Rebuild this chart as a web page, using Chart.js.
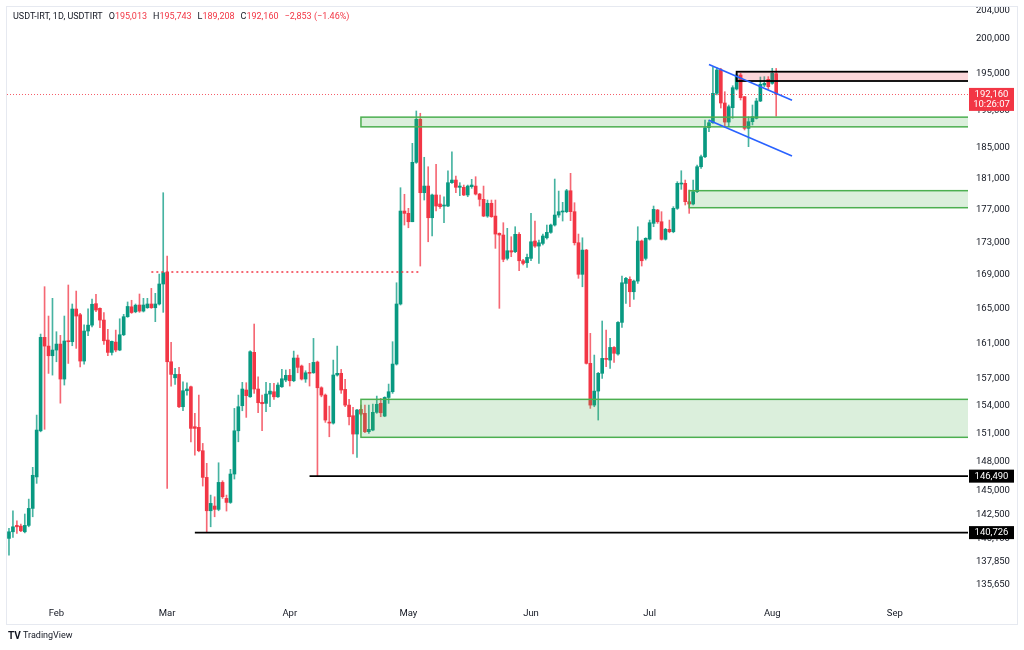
<!DOCTYPE html>
<html>
<head>
<meta charset="utf-8">
<title>USDT-IRT, 1D</title>
<script src="https://cdn.jsdelivr.net/npm/chart.js@4.4.1/dist/chart.umd.min.js"></script>
<style>
  html, body { margin: 0; padding: 0; background: #ffffff; }
  #wrap { width: 1024px; height: 650px; position: relative; }
</style>
</head>
<body>
<div id="wrap"><canvas id="canvas" width="1024" height="650"></canvas></div>
<script>
// daily candles, first one is 2025-01-20, axis runs on into September
var startDate = '2025-01-20';
var dayCount = 243;

var opens = [
  140150, 140810, 141450, 141380, 140810, 141450, 143170, 146410, 151290, 161680,
  160680, 159580, 160230, 160910, 156960, 161260, 161180, 164970, 164300, 158980,
  162410, 163090, 165600, 165050, 163680, 161370, 159960, 161140, 160230, 161980,
  164070, 165230, 164650, 165440, 164730, 165120, 165560, 165120, 165560, 167930,
  169360, 158900, 157100, 157480, 153900, 155660, 156100, 151730, 151660, 149160,
  146360, 142930, 143410, 143070, 145840, 144190, 143780, 146710, 151290, 154010,
  155740, 154990, 159970, 155850, 154380, 154270, 155290, 155550, 154990, 156100,
  156850, 157370, 156770, 159320, 158420, 156960, 157710, 157660, 158870, 155990,
  155180, 152230, 152120, 157410, 157600, 155810, 154080, 152920, 150940, 153610,
  153180, 151190, 151370, 153290, 154270, 152880, 154920, 155550, 158640, 165560,
  176870, 176580, 175530, 183100, 188790, 179190, 180040, 176030, 178900, 177760,
  177500, 177500, 180470, 180810, 179880, 179880, 178900, 179960, 180040, 179020,
  178350, 176240, 177840, 176240, 174090, 173880, 171020, 171950, 171830, 173970,
  170730, 170490, 171020, 173140, 172520, 172850, 173540, 174210, 175120, 176370,
  176750, 176790, 179440, 176790, 172930, 169090, 172030, 158720, 154080, 155620,
  157600, 159280, 159090, 160530, 159780, 163410, 168000, 168490, 167010, 168280,
  173140, 171020, 173380, 175330, 177000, 175530, 173350, 174590, 174290, 177210,
  180300, 180390, 178050, 177760, 179320, 182530, 183830, 187660, 188330, 192310,
  195520, 190990, 188420, 190350, 192900, 194830, 191850, 187580, 188470, 188920,
  191260, 193450, 194230, 193680, 195013
];
var highs = [
  141150, 142930, 141920, 141590, 142600, 144120, 147410, 152990, 162060, 167610,
  164150, 166230, 162330, 161910, 164150, 167810, 165560, 167090, 164460, 163130,
  165000, 166140, 166700, 165120, 164560, 162610, 161260, 162520, 163830, 164350,
  165800, 166000, 165560, 166740, 166230, 166230, 167410, 166820, 169120, 179190,
  171300, 161110, 158160, 158270, 156660, 156550, 156180, 153180, 155180, 149940,
  147830, 144530, 144360, 147890, 146010, 144530, 147200, 153720, 155180, 156590,
  156550, 160150, 163220, 157220, 155180, 156590, 156480, 156480, 156550, 158040,
  157970, 158040, 160110, 159660, 158530, 157890, 158720, 161560, 158980, 156100,
  155300, 153970, 159090, 160680, 158040, 156920, 154710, 153830, 153610, 154080,
  154080, 154080, 154190, 155070, 154820, 154990, 156400, 161180, 168080, 179830,
  178990, 177210, 185590, 189910, 189600, 183760, 182530, 179000, 182840, 178900,
  178680, 182010, 184490, 181330, 180470, 180170, 180170, 180900, 181240, 179110,
  180040, 178260, 178260, 178260, 174150, 175410, 174710, 173670, 174910, 174170,
  170900, 171550, 176580, 175620, 173260, 174000, 175120, 175240, 180940, 179400,
  177970, 179620, 181680, 177920, 174000, 173540, 172120, 162140, 159660, 157700,
  163570, 162520, 161560, 160610, 163490, 168880, 168730, 168800, 168400, 174910,
  173260, 173540, 175740, 177500, 177080, 176790, 174710, 175740, 177420, 180600,
  182010, 180810, 179530, 180810, 182750, 184060, 188690, 188690, 195940, 195840,
  195760, 192530, 190720, 193350, 195070, 195070, 191900, 189140, 190720, 191630,
  194550, 194600, 194600, 195760, 195743
];
var lows = [
  138500, 140250, 140650, 140810, 140700, 141310, 142320, 145740, 151180, 151450,
  157590, 157400, 158900, 154290, 156290, 158710, 160720, 160420, 158330, 158640,
  161870, 162890, 164650, 162800, 160880, 159580, 159660, 160030, 160150, 161870,
  164000, 164460, 164530, 164580, 164620, 165050, 165050, 163490, 165440, 164580,
  145220, 156180, 156370, 153790, 153460, 155180, 150110, 148700, 149050, 145460,
  140726, 141310, 142320, 142930, 144190, 142900, 143680, 146190, 150110, 153460,
  152740, 154930, 155370, 153240, 151290, 153350, 153900, 154710, 154920, 156030,
  156660, 156180, 156660, 157660, 156850, 156590, 156180, 157600, 146490, 154990,
  152200, 150650, 152010, 157290, 155370, 153900, 151910, 148810, 148460, 152990,
  151080, 151010, 151290, 153180, 152810, 152810, 154270, 155370, 158530, 165440,
  175120, 174780, 175530, 182970, 170090, 178260, 173050, 173760, 176870, 177210,
  175410, 177420, 180390, 179190, 178810, 178810, 178680, 179750, 178900, 177500,
  176160, 176080, 176080, 172240, 165050, 170610, 170820, 171220, 171710, 169520,
  170210, 169930, 170730, 172360, 170410, 172650, 173380, 174090, 174990, 176080,
  175620, 176660, 175660, 172650, 168610, 167600, 158640, 153720, 153900, 152450,
  157030, 158340, 158160, 158830, 159660, 162830, 165640, 165240, 166110, 168000,
  170090, 170820, 173260, 174910, 175330, 173260, 173260, 174160, 174160, 177080,
  179620, 177630, 176580, 177630, 179190, 182320, 183700, 187130, 188250, 192080,
  190310, 187760, 187800, 188920, 192760, 191400, 187360, 185150, 188030, 188830,
  191170, 193220, 192860, 193550, 189208
];
var closes = [
  140810, 141310, 141310, 140910, 141450, 143170, 146580, 151370, 161680, 160680,
  159580, 160230, 160910, 156960, 161260, 161180, 164970, 164150, 158980, 162410,
  163090, 165530, 164850, 163680, 161290, 159960, 161220, 160230, 161980, 164070,
  165270, 164560, 165420, 164730, 165440, 165560, 165120, 165560, 167930, 169280,
  158900, 157480, 157480, 153900, 155660, 155850, 151550, 151550, 149160, 146360,
  142930, 143680, 143070, 145840, 144360, 143780, 146710, 151290, 153900, 155850,
  155110, 160040, 155850, 154340, 154230, 155290, 155620, 154990, 156290, 156990,
  157370, 156770, 159320, 158270, 156960, 157660, 157600, 158830, 155990, 155180,
  152450, 152120, 157410, 157600, 155740, 154080, 152810, 150940, 153540, 153100,
  151190, 151440, 153290, 154170, 153240, 154920, 155550, 158640, 165560, 176870,
  176580, 175530, 183100, 188790, 179190, 180040, 176030, 178900, 177500, 177420,
  177630, 180470, 180810, 179880, 180040, 178900, 180040, 180170, 179020, 178350,
  176240, 177840, 176160, 174000, 173880, 170900, 171950, 171790, 173970, 170730,
  170410, 171140, 173050, 172520, 172930, 173760, 174210, 175120, 176370, 176790,
  176870, 179440, 176790, 172930, 169090, 172030, 158720, 154080, 155620, 157600,
  159280, 159170, 160530, 159860, 163410, 168080, 168610, 167010, 168280, 173140,
  170730, 173470, 175410, 177080, 175530, 173350, 174590, 174290, 177210, 180390,
  180390, 178050, 177760, 179320, 182530, 183830, 187660, 188330, 192310, 195520,
  190990, 188420, 190490, 193080, 194830, 191710, 187580, 188470, 189140, 191260,
  193540, 193680, 193220, 195060, 192160
];

// right price scale labels
var yTicks = [204000, 200000, 195000, 190000, 185000, 181000, 177000, 173000, 169000,
  165000, 161000, 157000, 154000, 151000, 148000, 145000, 142500, 140100, 137850, 135650];
var monthNames = ['Jan', 'Feb', 'Mar', 'Apr', 'May', 'Jun', 'Jul', 'Aug', 'Sep', 'Oct', 'Nov', 'Dec'];

// drawings on the chart
var demandZones = [
  { from: '2025-04-19', top: 189080, bottom: 187780 },
  { from: '2025-07-11', top: 179450, bottom: 177290 },
  { from: '2025-04-19', top: 154710, bottom: 150590 }
];
var supplyZone = { from: '2025-07-23', top: 195285, bottom: 194000 };
var lowLevels = [
  { from: '2025-04-06', price: 146490 },
  { from: '2025-03-08', price: 140726 }
];
var dottedLevel = { from: '2025-02-25', to: '2025-05-04', price: 169360 };
var channel = [
  { from: '2025-07-16', p1: 196275, to: '2025-08-06', p2: 191370 },
  { from: '2025-07-16', p1: 188660, to: '2025-08-06', p2: 183940 }
];
var lastPrice = 192160;
var lastTime = '10:26:07';
var headerTitle = 'USDT-IRT, 1D, USDTIRT';
var ohlcLast = [['O', '195,013'], ['H', '195,743'], ['L', '189,208'], ['C', '192,160']];
var changeText = '\u22122,853 (\u22121.46%)';

var UP = '#089981', DOWN = '#F23645';
var FONT = 'Roboto, "Noto Sans", sans-serif';

var labels = [];
var d0 = new Date(startDate + 'T00:00:00Z');
for (var i = 0; i < dayCount; i++) {
  labels.push(new Date(d0.getTime() + i * 86400000).toISOString().slice(0, 10));
}

var wickData = highs.map(function(h, i) { return [lows[i], h]; });
var bodyData = opens.map(function(o, i) { return [o, closes[i]]; });
var candleColors = closes.map(function(c, i) { return c >= opens[i] ? UP : DOWN; });
var wickColors = closes.map(function(c, i) { return c >= opens[i] ? 'rgba(8,153,129,0.75)' : 'rgba(242,54,69,0.75)'; });

function fmt(v) { return Math.round(v).toLocaleString('en-US'); }

var overlay = {
  id: 'overlay',
  afterDatasetsDraw: function(chart) {
    var ctx = chart.ctx, xs = chart.scales.x, ys = chart.scales.y, a = chart.chartArea;
    function px(date) { return xs.getPixelForValue(labels.indexOf(date)); }
    ctx.save();
    ctx.beginPath();
    ctx.rect(a.left, a.top, a.right - a.left, a.bottom - a.top);
    ctx.clip();

    // green zones
    demandZones.forEach(function(z) {
      var x = px(z.from), y1 = ys.getPixelForValue(z.top), y2 = ys.getPixelForValue(z.bottom);
      ctx.fillStyle = 'rgba(76,175,80,0.2)';
      ctx.fillRect(x, y1, a.right - x, y2 - y1);
      ctx.strokeStyle = '#4CAF50';
      ctx.lineWidth = 1.5;
      ctx.strokeRect(x, y1, a.right - x + 4, y2 - y1);
    });

    // supply zone
    var sx = px(supplyZone.from);
    var sy1 = ys.getPixelForValue(supplyZone.top), sy2 = ys.getPixelForValue(supplyZone.bottom);
    ctx.fillStyle = 'rgba(242,54,69,0.2)';
    ctx.fillRect(sx, sy1, a.right - sx, sy2 - sy1);
    ctx.strokeStyle = '#000000';
    ctx.lineWidth = 1.8;
    ctx.strokeRect(sx, sy1, a.right - sx + 4, sy2 - sy1);

    // black lows
    lowLevels.forEach(function(l) {
      var y = ys.getPixelForValue(l.price);
      ctx.strokeStyle = '#000000';
      ctx.lineWidth = 1.8;
      ctx.beginPath();
      ctx.moveTo(px(l.from), y);
      ctx.lineTo(a.right, y);
      ctx.stroke();
    });

    // red dotted level
    var dy = ys.getPixelForValue(dottedLevel.price);
    ctx.strokeStyle = DOWN;
    ctx.lineWidth = 1.5;
    ctx.setLineDash([2, 3]);
    ctx.beginPath();
    ctx.moveTo(px(dottedLevel.from), dy);
    ctx.lineTo(px(dottedLevel.to), dy);
    ctx.stroke();

    // last price line
    var ly = Math.round(ys.getPixelForValue(lastPrice)) + 0.5;
    ctx.lineWidth = 1;
    ctx.setLineDash([1, 2]);
    ctx.strokeStyle = 'rgba(242,54,69,0.8)';
    ctx.beginPath();
    ctx.moveTo(a.left, ly);
    ctx.lineTo(a.right, ly);
    ctx.stroke();
    ctx.setLineDash([]);

    // falling channel
    ctx.strokeStyle = '#2962FF';
    ctx.lineWidth = 1.6;
    channel.forEach(function(t) {
      ctx.beginPath();
      ctx.moveTo(px(t.from), ys.getPixelForValue(t.p1));
      ctx.lineTo(px(t.to), ys.getPixelForValue(t.p2));
      ctx.stroke();
    });
    ctx.restore();
  },
  afterDraw: function(chart) {
    var ctx = chart.ctx, ys = chart.scales.y, a = chart.chartArea;
    ctx.save();

    // panel frame
    ctx.strokeStyle = '#e6e9f0';
    ctx.lineWidth = 1;
    ctx.strokeRect(6.5, 6.5, 1011, 618);

    // price tags on the scale
    ctx.textAlign = 'center';
    ctx.textBaseline = 'middle';
    ctx.font = '9.5px ' + FONT;
    var tx = a.right + 1, tw = 45;
    var py = ys.getPixelForValue(lastPrice);
    ctx.fillStyle = DOWN;
    ctx.fillRect(tx, py - 6.5, tw, 23);
    ctx.fillStyle = '#ffffff';
    ctx.fillText(fmt(lastPrice), tx + tw / 2, py);
    ctx.fillText(lastTime, tx + tw / 2, py + 10);
    lowLevels.forEach(function(l) {
      var y = ys.getPixelForValue(l.price);
      ctx.fillStyle = '#000000';
      ctx.fillRect(tx, y - 6.5, tw, 13);
      ctx.fillStyle = '#ffffff';
      ctx.fillText(fmt(l.price), tx + tw / 2, y + 0.5);
    });

    // legend line
    ctx.textAlign = 'left';
    ctx.font = '9px ' + FONT;
    var x = 13, y = 17;
    ctx.fillStyle = '#131722';
    ctx.fillText(headerTitle, x, y);
    x += ctx.measureText(headerTitle).width + 6;
    ohlcLast.forEach(function(p) {
      ctx.fillStyle = '#131722';
      ctx.fillText(p[0], x, y);
      x += ctx.measureText(p[0]).width;
      ctx.fillStyle = DOWN;
      ctx.fillText(p[1], x, y);
      x += ctx.measureText(p[1]).width + 6;
    });
    ctx.fillStyle = DOWN;
    ctx.fillText(changeText, x, y);

    // logo
    ctx.fillStyle = '#131722';
    ctx.font = 'bold 10px ' + FONT;
    ctx.fillText('TV', 8, 636);
    ctx.font = '9px ' + FONT;
    ctx.fillText('TradingView', 23, 636);
    ctx.restore();
  }
};

var ctx = document.getElementById('canvas').getContext('2d');
var chart = new Chart(ctx, {
  type: 'bar',
  data: {
    labels: labels,
    datasets: [{
      label: 'wick',
      data: wickData,
      backgroundColor: wickColors,
      barThickness: 1,
      grouped: false,
      order: 2
    }, {
      label: 'body',
      data: bodyData,
      backgroundColor: candleColors,
      barThickness: 3,
      minBarLength: 1,
      grouped: false,
      order: 1
    }]
  },
  options: {
    responsive: false,
    animation: false,
    events: [],
    layout: { padding: { left: 7, top: 7, right: 7, bottom: 27 } },
    plugins: { legend: { display: false }, tooltip: { enabled: false } },
    scales: {
      x: {
        type: 'category',
        grid: { display: false, drawTicks: false },
        border: { display: false },
        afterFit: function(s) {
          s.height = 23;
          s.paddingLeft = 0;
          s.paddingRight = 0;
        },
        ticks: {
          autoSkip: false,
          maxRotation: 0,
          padding: 8,
          color: '#131722',
          font: { family: FONT, size: 9.5 },
          callback: function(v, i) {
            var s = labels[i];
            return s.slice(8) === '01' ? monthNames[+s.slice(5, 7) - 1] : '';
          }
        }
      },
      y: {
        type: 'logarithmic',
        position: 'right',
        min: 134144,
        max: 204479,
        grid: { display: false, drawTicks: false },
        border: { display: false },
        afterFit: function(s) {
          s.width = 49;
          s.paddingTop = 0;
          s.paddingBottom = 0;
        },
        afterBuildTicks: function(s) {
          s.ticks = yTicks.map(function(v) { return { value: v }; });
        },
        ticks: {
          autoSkip: false,
          padding: 8,
          color: '#131722',
          font: { family: FONT, size: 9.5 },
          callback: function(v) { return fmt(v); }
        }
      }
    }
  },
  plugins: [overlay]
});
</script>
</body>
</html>
